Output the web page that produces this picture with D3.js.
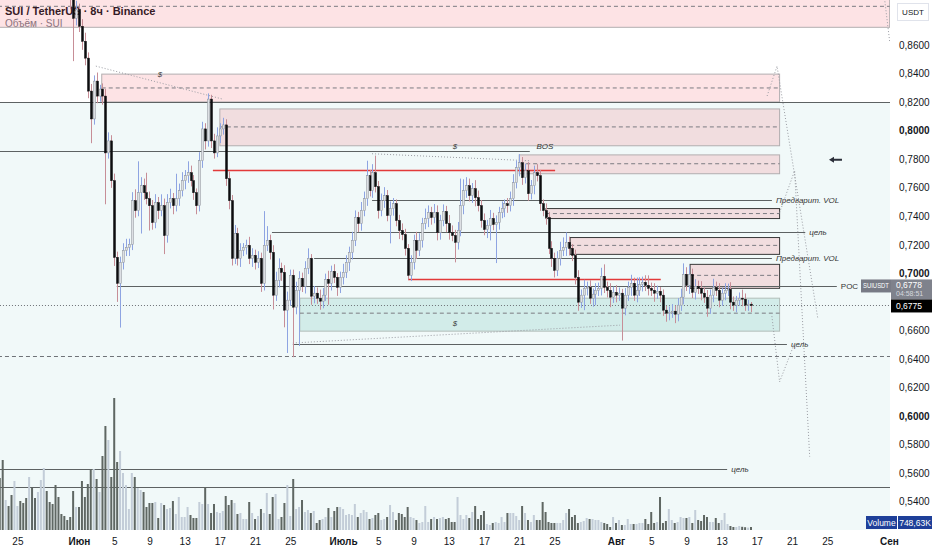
<!DOCTYPE html>
<html>
<head>
<meta charset="utf-8">
<script src="https://cdn.jsdelivr.net/npm/d3@7"></script>
<style>
  body { margin: 0; background: #fff; }
  svg { display: block; font-family: "Liberation Sans", Arial, sans-serif; }
</style>
</head>
<body>
<div id="chart"></div>
<script>

// --------------------------------------
//  Data (8h candles, SUI/USDT)
// --------------------------------------

const startTime = Date.UTC(2023, 4, 23, 0);
const barHours = 8;
const firstOpen = 1.0200;

const closes = [
  1.0150, 1.0080, 1.0210, 1.0050, 0.9960, 1.0100, 1.0320, 1.0250, 1.0010, 0.9870,
  1.0030, 0.9920, 0.9750, 0.9840, 0.9990, 1.0150, 1.0020, 0.9850, 0.9710, 0.9600,
  0.9520, 0.9400, 0.9280, 0.9150, 0.8950, 0.8787, 0.8850, 0.8731, 0.8626, 0.8508,
  0.8277, 0.8082, 0.8347, 0.8242, 0.8291, 0.8242, 0.7844, 0.7928, 0.7649, 0.7112,
  0.6930, 0.7077, 0.7161, 0.7182, 0.7203, 0.7509, 0.7440, 0.7565, 0.7614, 0.7565,
  0.7523, 0.7474, 0.7356, 0.7495, 0.7440, 0.7474, 0.7265, 0.7495, 0.7523, 0.7474,
  0.7523, 0.7579, 0.7649, 0.7684, 0.7705, 0.7649, 0.7565, 0.7474, 0.7789, 0.8012,
  0.7928, 0.8221, 0.7928, 0.7844, 0.7963, 0.8012, 0.8040, 0.7663, 0.7509, 0.7105,
  0.7279, 0.7105, 0.7161, 0.7182, 0.7196, 0.7105, 0.7126, 0.7077, 0.7105, 0.6930,
  0.7196, 0.7231, 0.7147, 0.6847, 0.6951, 0.7035, 0.7007, 0.6742, 0.6812, 0.6986,
  0.6763, 0.6881, 0.6965, 0.6909, 0.7035, 0.7105, 0.6840, 0.6861, 0.6826, 0.6805,
  0.6847, 0.6958, 0.6930, 0.7014, 0.6972, 0.6902, 0.6972, 0.7007, 0.7077, 0.7147,
  0.7231, 0.7391, 0.7349, 0.7440, 0.7523, 0.7684, 0.7579, 0.7705, 0.7607, 0.7440,
  0.7509, 0.7544, 0.7405, 0.7454, 0.7488, 0.7370, 0.7300, 0.7272, 0.7175, 0.6986,
  0.7077, 0.7231, 0.7161, 0.7231, 0.7349, 0.7384, 0.7426, 0.7391, 0.7426, 0.7286,
  0.7370, 0.7433, 0.7349, 0.7286, 0.7265, 0.7217, 0.7300, 0.7474, 0.7579, 0.7614,
  0.7544, 0.7593, 0.7530, 0.7474, 0.7370, 0.7307, 0.7335, 0.7384, 0.7342, 0.7356,
  0.7426, 0.7454, 0.7488, 0.7474, 0.7523, 0.7635, 0.7740, 0.7775, 0.7670, 0.7719,
  0.7558, 0.7614, 0.7705, 0.7684, 0.7488, 0.7440, 0.7391, 0.7175, 0.7105, 0.7021,
  0.7105, 0.7161, 0.7182, 0.7217, 0.7175, 0.7126, 0.6972, 0.6798, 0.6847, 0.6895,
  0.6902, 0.6826, 0.6854, 0.6881, 0.6895, 0.6979, 0.6902, 0.6881, 0.6833, 0.6867,
  0.6847, 0.6861, 0.6756, 0.6847, 0.6902, 0.6930, 0.6847, 0.6881, 0.6923, 0.6937,
  0.6916, 0.6895, 0.6881, 0.6861, 0.6874, 0.6847, 0.6742, 0.6721, 0.6728, 0.6735,
  0.6714, 0.6777, 0.6833, 0.6993, 0.6916, 0.6993, 0.6867, 0.6909, 0.6895, 0.6861,
  0.6833, 0.6756, 0.6847, 0.6902, 0.6881, 0.6812, 0.6861, 0.6881, 0.6888, 0.6798,
  0.6777, 0.6812, 0.6826, 0.6819, 0.6777, 0.6784, 0.6775
];

// wick length above / below the body, in USDT
const wickUp = [
  0.008, 0.010, 0.006, 0.009, 0.007, 0.012, 0.008, 0.006, 0.010, 0.007,
  0.009, 0.006, 0.008, 0.010, 0.007, 0.006, 0.009, 0.008, 0.006, 0.007,
  0.008, 0.006, 0.007, 0.009, 0.006, 0.010, 0.006, 0.004, 0.005, 0.006,
  0.004, 0.005, 0.004, 0.006, 0.003, 0.004, 0.005, 0.006, 0.004, 0.005,
  0.004, 0.004, 0.005, 0.006, 0.004, 0.006, 0.008, 0.022, 0.006, 0.005,
  0.014, 0.005, 0.004, 0.006, 0.004, 0.008, 0.005, 0.006, 0.007, 0.004,
  0.0175, 0.005, 0.006, 0.004, 0.008, 0.005, 0.004, 0.003, 0.006, 0.005,
  0.004, 0.004, 0.003, 0.005, 0.006, 0.004, 0.005, 0.004, 0.005, 0.004,
  0.006, 0.004, 0.005, 0.003, 0.004, 0.006, 0.005, 0.004, 0.005, 0.004,
  0.024, 0.010, 0.004, 0.005, 0.006, 0.007, 0.004, 0.005, 0.006, 0.004,
  0.004, 0.006, 0.005, 0.004, 0.005, 0.007, 0.003, 0.005, 0.004, 0.006,
  0.005, 0.004, 0.006, 0.004, 0.005, 0.003, 0.004, 0.006, 0.005, 0.004,
  0.006, 0.005, 0.004, 0.006, 0.005, 0.0105, 0.004, 0.006, 0.012, 0.004,
  0.005, 0.006, 0.004, 0.005, 0.004, 0.003, 0.004, 0.005, 0.004, 0.003,
  0.005, 0.004, 0.006, 0.005, 0.004, 0.007, 0.005, 0.004, 0.006, 0.005,
  0.004, 0.005, 0.004, 0.006, 0.005, 0.004, 0.006, 0.019, 0.008, 0.006,
  0.005, 0.004, 0.006, 0.005, 0.004, 0.005, 0.004, 0.006, 0.004, 0.005,
  0.004, 0.005, 0.003, 0.004, 0.005, 0.006, 0.005, 0.006, 0.004, 0.005,
  0.006, 0.004, 0.005, 0.006, 0.004, 0.003, 0.005, 0.004, 0.005, 0.004,
  0.005, 0.006, 0.007, 0.007, 0.004, 0.003, 0.004, 0.005, 0.004, 0.006,
  0.004, 0.005, 0.004, 0.005, 0.004, 0.006, 0.0084, 0.004, 0.005, 0.004,
  0.005, 0.004, 0.003, 0.005, 0.004, 0.006, 0.004, 0.009, 0.005, 0.004,
  0.005, 0.007, 0.004, 0.005, 0.004, 0.003, 0.004, 0.003, 0.004, 0.005,
  0.004, 0.005, 0.006, 0.0077, 0.005, 0.006, 0.004, 0.005, 0.004, 0.005,
  0.004, 0.005, 0.004, 0.006, 0.004, 0.005, 0.004, 0.005, 0.004, 0.005,
  0.004, 0.003, 0.004, 0.006, 0.004, 0.003, 0.0015
];

const wickDn = [
  0.007, 0.009, 0.006, 0.010, 0.008, 0.007, 0.009, 0.006, 0.008, 0.010,
  0.006, 0.008, 0.009, 0.007, 0.006, 0.008, 0.007, 0.009, 0.006, 0.008,
  0.007, 0.009, 0.006, 0.008, 0.010, 0.030, 0.005, 0.004, 0.006, 0.005,
  0.005, 0.017, 0.004, 0.005, 0.004, 0.006, 0.036, 0.004, 0.005, 0.006,
  0.013, 0.031, 0.005, 0.004, 0.006, 0.004, 0.005, 0.004, 0.0286, 0.005,
  0.004, 0.0174, 0.005, 0.004, 0.006, 0.004, 0.013, 0.005, 0.004, 0.006,
  0.004, 0.005, 0.004, 0.006, 0.005, 0.004, 0.005, 0.006, 0.004, 0.005,
  0.006, 0.004, 0.005, 0.004, 0.003, 0.005, 0.004, 0.005, 0.006, 0.005,
  0.004, 0.005, 0.006, 0.004, 0.005, 0.004, 0.006, 0.005, 0.004, 0.006,
  0.005, 0.004, 0.005, 0.010, 0.004, 0.005, 0.006, 0.012, 0.030, 0.004,
  0.035, 0.005, 0.039, 0.004, 0.005, 0.004, 0.006, 0.005, 0.004, 0.006,
  0.005, 0.004, 0.015, 0.005, 0.004, 0.006, 0.004, 0.005, 0.004, 0.006,
  0.005, 0.004, 0.006, 0.005, 0.004, 0.005, 0.004, 0.005, 0.004, 0.0056,
  0.004, 0.005, 0.004, 0.0195, 0.005, 0.004, 0.006, 0.004, 0.005, 0.003,
  0.004, 0.005, 0.006, 0.004, 0.005, 0.004, 0.006, 0.005, 0.004, 0.0055,
  0.005, 0.004, 0.006, 0.005, 0.004, 0.014, 0.005, 0.004, 0.006, 0.005,
  0.004, 0.005, 0.006, 0.004, 0.005, 0.004, 0.006, 0.0104, 0.004, 0.027,
  0.005, 0.004, 0.006, 0.005, 0.004, 0.005, 0.004, 0.006, 0.005, 0.004,
  0.005, 0.004, 0.006, 0.004, 0.005, 0.004, 0.005, 0.004, 0.006, 0.005,
  0.004, 0.005, 0.004, 0.006, 0.005, 0.004, 0.005, 0.006, 0.004, 0.0105,
  0.005, 0.004, 0.006, 0.0077, 0.004, 0.005, 0.004, 0.005, 0.007, 0.004,
  0.005, 0.004, 0.0227, 0.005, 0.004, 0.006, 0.004, 0.005, 0.004, 0.005,
  0.004, 0.005, 0.004, 0.006, 0.004, 0.005, 0.004, 0.006, 0.005, 0.004,
  0.0063, 0.005, 0.004, 0.005, 0.004, 0.006, 0.004, 0.005, 0.004, 0.005,
  0.004, 0.006, 0.004, 0.005, 0.004, 0.005, 0.004, 0.005, 0.004, 0.005,
  0.004, 0.005, 0.004, 0.005, 0.004, 0.004, 0.0047
];

// volume per bar, thousands of SUI
const volumesK = [
  13000, 17500, 7500, 6000, 8750, 12250, 6000, 7250, 6750, 8000,
  13250, 10500, 8000, 9500, 12500, 15500, 9750, 7000, 6500, 11250,
  8250, 4000, 3500, 2500, 3250, 9750, 5750, 5750, 12250, 8250,
  11500, 15250, 15250, 12750, 9500, 18500, 26000, 22500, 13250, 33000,
  17000, 19750, 14250, 11250, 5250, 14250, 13250, 10500, 10000, 9500,
  5750, 6750, 6750, 7000, 3000, 6750, 6250, 5250, 5500, 7250,
  4000, 8250, 3250, 3250, 5750, 3750, 3000, 3000, 7000, 6500,
  10750, 6500, 4250, 6500, 4500, 4250, 4750, 8500, 6250, 7500,
  6750, 4000, 4250, 2750, 2750, 7000, 4250, 2750, 3500, 5250,
  4250, 9250, 4000, 8250, 9000, 2750, 3250, 6750, 11250, 3500,
  12750, 5250, 5750, 7500, 4500, 5000, 4250, 4750, 1750, 2500,
  2750, 3250, 5500, 3250, 4750, 5750, 5750, 5250, 3750, 4000,
  3750, 6500, 3250, 4250, 5000, 4500, 2750, 3000, 3750, 4250,
  2500, 2750, 3250, 6250, 4500, 2500, 4250, 4000, 3250, 5750,
  3250, 3000, 2500, 1750, 2000, 6000, 2000, 2750, 3250, 2750,
  3000, 3250, 2750, 3000, 2000, 2000, 8250, 3750, 2750, 3750,
  3000, 4500, 6000, 2750, 3750, 4750, 1500, 1250, 1750, 2000,
  1750, 3250, 2000, 4250, 4250, 4250, 3500, 2500, 6000, 4250,
  2500, 2000, 3750, 2500, 2500, 7000, 4500, 2000, 1750, 1750,
  1750, 1750, 2500, 4250, 5250, 3250, 3750, 1750, 2000, 2250,
  3000, 2750, 2750, 2500, 2500, 2000, 1750, 1500, 750, 3250,
  1750, 2500, 1250, 1250, 2750, 1500, 1500, 1500, 1750, 1750,
  2750, 1500, 4500, 1750, 2000, 8250, 1750, 2250, 5250, 2500,
  1750, 2000, 3250, 3000, 3000, 3250, 1750, 5000, 2500, 2250,
  3750, 3250, 2000, 2000, 3000, 1750, 2500, 4250, 1500, 1000,
  750, 750, 1000, 800, 700, 600, 748.63
];

// price axis (0,6800 sits under the last-price labels and is not shown)
const priceTicks = [0.86, 0.84, 0.82, 0.80, 0.78, 0.76, 0.74, 0.72, 0.70, 0.66, 0.64, 0.62, 0.60, 0.58, 0.56, 0.54];
const boldTicks = [0.80, 0.70, 0.60];
// time axis
const timeTicks = ["2023-05-25", "2023-06-01", "2023-06-05", "2023-06-09", "2023-06-13", "2023-06-17", "2023-06-21", "2023-06-25",
  "2023-07-01", "2023-07-05", "2023-07-09", "2023-07-13", "2023-07-17", "2023-07-21", "2023-07-25",
  "2023-08-01", "2023-08-05", "2023-08-09", "2023-08-13", "2023-08-17", "2023-08-21", "2023-08-25", "2023-09-01"];
const timeLabels = ["25", "Июн", "5", "9", "13", "17", "21", "25", "Июль", "5", "9", "13", "17", "21", "25",
  "Авг", "5", "9", "13", "17", "21", "25", "Сен"];
const monthLabels = ["Июн", "Июль", "Авг", "Сен"];

// drawings: supply zones (pink) and demand zone (green)
const zoneEnd = "2023-08-19T14:00Z";
const pinkZones = [
  {from: "2023-05-22T00:00Z", to: "2023-09-01T02:00Z", top: 0.905, bottom: 0.8724, mid: 0.8871, dark: false},
  {from: "2023-06-03T14:00Z", to: zoneEnd, top: 0.8396, bottom: 0.8201, mid: 0.8299, dark: false},
  {from: "2023-06-17T00:00Z", to: zoneEnd, top: 0.8152, bottom: 0.7894, mid: 0.8026, dark: false},
  {from: "2023-07-21T00:00Z", to: zoneEnd, top: 0.7830, bottom: 0.7698, mid: 0.7768, dark: false},
  {from: "2023-07-24T01:00Z", to: zoneEnd, top: 0.7454, bottom: 0.7384, mid: 0.7419, dark: true},
  {from: "2023-07-26T19:00Z", to: zoneEnd, top: 0.7251, bottom: 0.7133, mid: 0.7196, dark: true},
  {from: "2023-08-09T10:00Z", to: zoneEnd, top: 0.7063, bottom: 0.6895, mid: 0.6986, dark: true}
];
const greenZones = [
  {from: "2023-06-26T02:00Z", to: zoneEnd, top: 0.6826, bottom: 0.6595, mid: 0.6721}
];

// horizontal levels
const levels = [
  {from: "2023-05-22T00:00Z", to: "2023-09-02T00:00Z", price: 0.8200, kind: "solid", label: ""},
  {from: "2023-05-22T00:00Z", to: "2023-07-22T05:00Z", price: 0.7855, kind: "solid", label: ""},
  {from: "2023-06-16T05:00Z", to: "2023-07-25T02:00Z", price: 0.7726, kind: "red", label: ""},
  {from: "2023-07-04T07:00Z", to: "2023-08-18T17:00Z", price: 0.7517, kind: "solid", label: "Предварит. VOL"},
  {from: "2023-06-22T22:00Z", to: "2023-08-22T12:00Z", price: 0.7293, kind: "solid", label: "цель"},
  {from: "2023-06-27T17:00Z", to: "2023-08-18T17:00Z", price: 0.7105, kind: "solid", label: "Предварит. VOL"},
  {from: "2023-07-08T09:00Z", to: "2023-08-06T02:00Z", price: 0.6958, kind: "red", label: ""},
  {from: "2023-06-05T07:00Z", to: "2023-08-26T02:00Z", price: 0.6909, kind: "solid", label: "POC"},
  {from: "2023-05-22T00:00Z", to: "2023-09-02T00:00Z", price: 0.6775, kind: "dotted", label: ""},
  {from: "2023-06-25T07:00Z", to: "2023-08-20T10:00Z", price: 0.6505, kind: "solid", label: "цель"},
  {from: "2023-05-22T00:00Z", to: "2023-09-02T00:00Z", price: 0.6421, kind: "dashed", label: ""},
  {from: "2023-05-22T00:00Z", to: "2023-08-13T15:00Z", price: 0.5632, kind: "solid", label: "цель"},
  {from: "2023-05-22T00:00Z", to: "2023-09-02T00:00Z", price: 0.5500, kind: "solid", label: ""}
];

// dotted trend lines and projection paths [time, price]
const dottedPaths = [
  [["2023-06-02T22:00Z", 0.8452], ["2023-06-17T06:00Z", 0.8222]],
  [["2023-07-04T07:00Z", 0.7838], ["2023-07-22T05:00Z", 0.7789]],
  [["2023-06-25T07:00Z", 0.6512], ["2023-08-01T11:00Z", 0.6637]],
  [["2023-08-18T04:00Z", 0.8243], ["2023-08-19T07:00Z", 0.8452], ["2023-08-23T22:00Z", 0.6687]],
  [["2023-08-19T14:00Z", 0.7426], ["2023-08-21T07:00Z", 0.7719], ["2023-08-23T00:00Z", 0.5716]],
  [["2023-08-18T17:00Z", 0.6700], ["2023-08-19T14:00Z", 0.6240], ["2023-08-21T07:00Z", 0.6512]],
  [["2023-08-31T13:00Z", 0.8906], ["2023-09-01T02:00Z", 0.8627]]
];

const markLabels = [
  {t: "2023-06-10T05:00Z", price: 0.8376, text: "$"},
  {t: "2023-07-13T17:00Z", price: 0.7870, text: "$"},
  {t: "2023-07-22T23:00Z", price: 0.7870, text: "BOS"},
  {t: "2023-07-13T17:00Z", price: 0.6630, text: "$"}
];

// --------------------------------------
//  Canvas
// --------------------------------------

const width = 932;
const height = 550;
const plotRight = 890;
const plotBottom = 530;

const svg = d3.select("#chart")
  .append("svg")
    .attr("width", width)
    .attr("height", height);

svg.append("defs").append("clipPath")
    .attr("id", "plot-clip")
  .append("rect")
    .attr("x", 0).attr("y", 0)
    .attr("width", plotRight).attr("height", plotBottom);

// --------------------------------------
//  Scales
// --------------------------------------

const x = d3.scaleUtc()
    .domain([new Date("2023-06-01T00:00Z"), new Date("2023-08-01T00:00Z")])
    .range([79, 616]);

const y = d3.scaleLinear()
    .domain([0.54, 0.86])
    .range([501.7, 45]);

const yVol = d3.scaleLinear()
    .domain([0, 33000])
    .range([plotBottom, 398]);

const candles = closes.map((c, i) => {
  const o = i === 0 ? firstOpen : closes[i - 1];
  return {
    t: new Date(startTime + i * barHours * 3600e3),
    o: o, c: c,
    h: Math.max(o, c) + wickUp[i],
    l: Math.min(o, c) - wickDn[i],
    v: volumesK[i]
  };
});

const plot = svg.append("g").attr("clip-path", "url(#plot-clip)");

// background below the 0,82 level
plot.append("rect")
    .attr("x", 0)
    .attr("y", y(0.82))
    .attr("width", plotRight)
    .attr("height", plotBottom - y(0.82))
    .attr("fill", "#f1f9f9");

// header text (drawn under the candles, as in the reference)
plot.append("text")
    .attr("x", 5).attr("y", 15)
    .attr("font-size", 11).attr("font-weight", "bold").attr("fill", "#131722")
    .text("SUI / TetherUS · 8ч · Binance");
plot.append("text")
    .attr("x", 5).attr("y", 27)
    .attr("font-size", 10).attr("fill", "#787b86")
    .text("Объём · SUI");

// --------------------------------------
//  Zones
// --------------------------------------

const zoneG = plot.append("g");

zoneG.selectAll(".pink")
  .data(pinkZones)
  .join("rect")
    .attr("class", "pink")
    .attr("x", d => x(new Date(d.from)))
    .attr("y", d => y(d.top))
    .attr("width", d => x(new Date(d.to)) - x(new Date(d.from)))
    .attr("height", d => y(d.bottom) - y(d.top))
    .attr("fill", "rgba(242, 54, 69, 0.14)")
    .attr("stroke", d => d.dark ? "#3a3a3a" : "#b2aeb0")
    .attr("stroke-width", 1);

zoneG.selectAll(".green")
  .data(greenZones)
  .join("rect")
    .attr("class", "green")
    .attr("x", d => x(new Date(d.from)))
    .attr("y", d => y(d.top))
    .attr("width", d => x(new Date(d.to)) - x(new Date(d.from)))
    .attr("height", d => y(d.bottom) - y(d.top))
    .attr("fill", "rgba(8, 153, 129, 0.13)")
    .attr("stroke", "#b2bdb9")
    .attr("stroke-width", 1);

zoneG.selectAll(".mid")
  .data(pinkZones.concat(greenZones))
  .join("line")
    .attr("class", "mid")
    .attr("x1", d => x(new Date(d.from)))
    .attr("x2", d => x(new Date(d.to)))
    .attr("y1", d => y(d.mid))
    .attr("y2", d => y(d.mid))
    .attr("stroke", "#7b7b82")
    .attr("stroke-dasharray", "4,3")
    .attr("stroke-width", 1);

// --------------------------------------
//  Levels and trend lines
// --------------------------------------

const levelG = plot.append("g");

levelG.selectAll(".level")
  .data(levels)
  .join("line")
    .attr("class", "level")
    .attr("x1", d => x(new Date(d.from)))
    .attr("x2", d => x(new Date(d.to)))
    .attr("y1", d => Math.round(y(d.price)) + 0.5)
    .attr("y2", d => Math.round(y(d.price)) + 0.5)
    .attr("stroke", d => d.kind === "red" ? "#e23a3a" : (d.kind === "solid" ? "#5d6263" : "#6f7378"))
    .attr("stroke-width", d => d.kind === "red" ? 1.3 : 1)
    .attr("stroke-dasharray", d => d.kind === "dotted" ? "1,2" : (d.kind === "dashed" ? "4,3" : null));

levelG.selectAll(".level-label")
  .data(levels.filter(d => d.label))
  .join("text")
    .attr("class", "level-label")
    .attr("x", d => x(new Date(d.to)) + 4)
    .attr("y", d => y(d.price) + 3)
    .attr("font-size", 8)
    .attr("font-style", d => d.label === "POC" ? "normal" : "italic")
    .attr("fill", "#333")
    .text(d => d.label);

const line = d3.line()
    .x(d => x(new Date(d[0])))
    .y(d => y(d[1]));

levelG.selectAll(".dotted")
  .data(dottedPaths)
  .join("path")
    .attr("class", "dotted")
    .attr("d", line)
    .attr("fill", "none")
    .attr("stroke", "#9a9ca3")
    .attr("stroke-width", 1)
    .attr("stroke-dasharray", "1,2");

levelG.selectAll(".mark")
  .data(markLabels)
  .join("text")
    .attr("class", "mark")
    .attr("x", d => x(new Date(d.t)))
    .attr("y", d => y(d.price))
    .attr("text-anchor", d => d.text === "BOS" ? "start" : "middle")
    .attr("font-size", 8)
    .attr("font-style", "italic")
    .attr("fill", "#333")
    .text(d => d.text);

// arrow
const arrowX = x(new Date("2023-08-25T21:00Z"));
const arrowY = y(0.7796);
levelG.append("path")
    .attr("d", `M${arrowX - 6},${arrowY} L${arrowX - 1},${arrowY - 3} L${arrowX - 1},${arrowY - 1} L${arrowX + 7},${arrowY - 1} L${arrowX + 7},${arrowY + 1} L${arrowX - 1},${arrowY + 1} L${arrowX - 1},${arrowY + 3} Z`)
    .attr("fill", "#2a2e39");

// --------------------------------------
//  Volume
// --------------------------------------

plot.append("g")
  .selectAll("rect")
  .data(candles)
  .join("rect")
    .attr("x", d => x(d.t) - 1)
    .attr("y", d => yVol(d.v))
    .attr("width", 2)
    .attr("height", d => plotBottom - yVol(d.v))
    .attr("fill", d => d.c >= d.o ? "#c3cdd8" : "#5f6763");

// --------------------------------------
//  Candles
// --------------------------------------

const candleG = plot.append("g");

candleG.selectAll(".wick")
  .data(candles)
  .join("line")
    .attr("class", "wick")
    .attr("x1", d => Math.round(x(d.t)) + 0.5)
    .attr("x2", d => Math.round(x(d.t)) + 0.5)
    .attr("y1", d => y(d.h))
    .attr("y2", d => y(d.l))
    .attr("stroke", d => d.c >= d.o ? "#8ea4e2" : "#c78e97")
    .attr("stroke-width", 1);

candleG.selectAll(".body")
  .data(candles)
  .join("rect")
    .attr("class", "body")
    .attr("x", d => Math.round(x(d.t)) - 0.5)
    .attr("y", d => y(Math.max(d.o, d.c)))
    .attr("width", 2)
    .attr("height", d => Math.max(1, Math.abs(y(d.o) - y(d.c))))
    .attr("fill", d => d.c >= d.o ? "#dde0e4" : "#0c0d0f")
    .attr("stroke", d => d.c >= d.o ? "#8b9098" : "#0c0d0f")
    .attr("stroke-width", 0.5);

// --------------------------------------
//  Axes
// --------------------------------------

const fmt = d => d.toFixed(4).replace(".", ",");

svg.append("rect")
    .attr("x", plotRight).attr("y", 0)
    .attr("width", width - plotRight).attr("height", height)
    .attr("fill", "#fff");
svg.append("rect")
    .attr("x", 0).attr("y", plotBottom)
    .attr("width", width).attr("height", height - plotBottom)
    .attr("fill", "#fff");

const yAxis = svg.append("g")
    .attr("transform", `translate(${plotRight}, 0)`)
    .call(d3.axisRight(y).tickValues(priceTicks).tickFormat(fmt).tickSize(0).tickPadding(9));
yAxis.select(".domain").remove();
yAxis.selectAll("text")
    .attr("font-size", 10)
    .attr("font-family", "Liberation Sans, Arial, sans-serif")
    .attr("fill", "#131722")
    .attr("font-weight", d => boldTicks.some(b => Math.abs(b - d) < 1e-9) ? "bold" : "normal");

const xAxis = svg.append("g")
    .attr("transform", `translate(0, ${plotBottom})`)
    .call(d3.axisBottom(x)
      .tickValues(timeTicks.map(d => new Date(d + "T00:00Z")))
      .tickFormat((d, i) => timeLabels[i])
      .tickSize(0).tickPadding(8));
xAxis.select(".domain").remove();
xAxis.selectAll("text")
    .attr("font-size", 10)
    .attr("font-family", "Liberation Sans, Arial, sans-serif")
    .attr("fill", "#131722")
    .attr("font-weight", (d, i) => monthLabels.includes(timeLabels[i]) ? "bold" : "normal");

// currency box
svg.append("rect")
    .attr("x", 897.5).attr("y", 3.5).attr("width", 31).attr("height", 17)
    .attr("fill", "#fff").attr("stroke", "#e0e3eb");
svg.append("text")
    .attr("x", 913).attr("y", 15)
    .attr("text-anchor", "middle").attr("font-size", 8).attr("fill", "#131722")
    .text("USDT");

// last price labels
const lastPrice = closes[closes.length - 1];
const lastY = y(lastPrice);

svg.append("rect")
    .attr("x", 861).attr("y", lastY - 26).attr("width", 30).attr("height", 13)
    .attr("fill", "#787b86");
svg.append("text")
    .attr("x", 863).attr("y", lastY - 17)
    .attr("font-size", 7)
    .attr("textLength", 26).attr("lengthAdjust", "spacingAndGlyphs")
    .attr("fill", "#fff")
    .text("SUIUSDT");
svg.append("rect")
    .attr("x", 891).attr("y", lastY - 26).attr("width", 41).attr("height", 20)
    .attr("fill", "#7f828c");
svg.append("text")
    .attr("x", 896).attr("y", lastY - 17.5)
    .attr("font-size", 8.5).attr("fill", "#fff")
    .text(fmt(0.6778));
svg.append("text")
    .attr("x", 896).attr("y", lastY - 9.5)
    .attr("font-size", 7).attr("fill", "#d6d8de")
    .text("04:58:51");
svg.append("rect")
    .attr("x", 891).attr("y", lastY - 6).attr("width", 41).attr("height", 13)
    .attr("fill", "#000");
svg.append("text")
    .attr("x", 896).attr("y", lastY + 4)
    .attr("font-size", 8.5).attr("fill", "#fff")
    .text(fmt(lastPrice));

// volume label
const lastVol = volumesK[volumesK.length - 1];
svg.append("rect")
    .attr("x", 866).attr("y", 516).attr("width", 31).attr("height", 13)
    .attr("fill", "#1e3f99");
svg.append("text")
    .attr("x", 881.5).attr("y", 526)
    .attr("text-anchor", "middle").attr("font-size", 8.5).attr("fill", "#fff")
    .text("Volume");
svg.append("rect")
    .attr("x", 898).attr("y", 516).attr("width", 34).attr("height", 13)
    .attr("fill", "#1e3f99");
svg.append("text")
    .attr("x", 915).attr("y", 526)
    .attr("text-anchor", "middle").attr("font-size", 8.5).attr("fill", "#fff")
    .text(d3.format(".2f")(lastVol).replace(".", ",") + "K");

</script>
</body>
</html>
